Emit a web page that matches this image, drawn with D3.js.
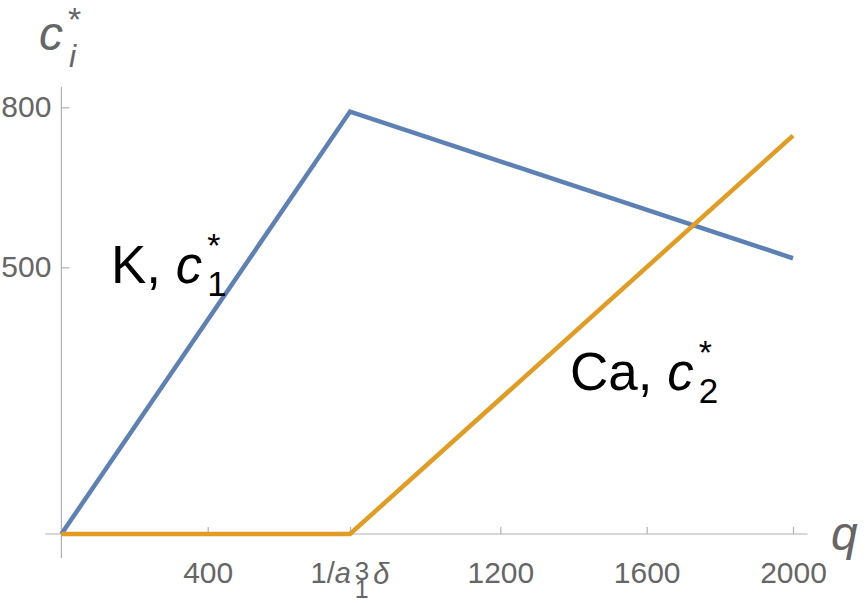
<!DOCTYPE html>
<html>
<head>
<meta charset="utf-8">
<script src="https://cdn.jsdelivr.net/npm/d3@7"></script>
<style>
  html, body { margin: 0; padding: 0; background: #fff; }
  svg { display: block; font-family: "Liberation Sans", Arial, sans-serif; }
</style>
</head>
<body>
<figure id="chart" style="margin:0"></figure>
<script>
// data
const qValues = [0, 789, 2000];
const kValues = [0, 792, 517];     // K, c1*
const caValues = [0, 0, 747];      // Ca, c2*
const xTicks = [400, 789, 1200, 1600, 2000];
const xTickLabels = ["400", "1/a\u2081\u00b3\u03b4", "1200", "1600", "2000"];
const yTicks = [500, 800];

const width = 867, height = 603;
const blue = "#5e81b5", orange = "#e19c24";
const axisColor = "#b0b0b0", labelColor = "#666";
const font = "'Liberation Sans', Arial, sans-serif";

const svg = d3.select("#chart")
  .append("svg")
  .attr("width", width)
  .attr("height", height);

// scales
const x = d3.scaleLinear().domain([0, 2000]).range([61.4, 793]);
const y = d3.scaleLinear().domain([0, 800]).range([534, 107.3]);

// axis lines (extend a bit past the plot range, Mathematica style)
svg.append("line")
  .attr("x1", x(-44)).attr("x2", x(2040))
  .attr("y1", y(0)).attr("y2", y(0))
  .attr("stroke", axisColor).attr("stroke-width", 1.2);
svg.append("line")
  .attr("x1", x(0)).attr("x2", x(0))
  .attr("y1", y(-45)).attr("y2", y(838))
  .attr("stroke", axisColor).attr("stroke-width", 1.2);

// x axis
const xAxis = svg.append("g")
  .attr("transform", "translate(0," + y(0) + ")")
  .call(d3.axisBottom(x)
    .tickValues(xTicks)
    .tickSizeInner(-7)
    .tickSizeOuter(0)
    .tickPadding(28)
    .tickFormat((d, i) => i === 1 ? "" : xTickLabels[i]));
xAxis.select(".domain").remove();
xAxis.selectAll(".tick line").attr("stroke", axisColor).attr("stroke-width", 1.2);
xAxis.selectAll(".tick text")
  .attr("fill", labelColor)
  .style("font-size", "30px")
  .style("font-family", font);

// special label at the kink: 1/a_1^3 δ, built from pieces
const special = xAxis.selectAll(".tick").filter((d, i) => i === 1);
const lab = special.append("g")
  .attr("fill", labelColor)
  .attr("text-anchor", "start")
  .style("font-family", font);
const main = lab.append("text").attr("x", -40).attr("y", 49).style("font-size", "29px");
main.append("tspan").text("1/");
main.append("tspan").attr("font-style", "italic").text("a");
const mx = -40 + main.node().getComputedTextLength() + 4;
const sup = lab.append("text").attr("x", mx).attr("y", 46).style("font-size", "26px").text("3");
lab.append("text").attr("x", mx).attr("y", 64).style("font-size", "25px").text("1");
const sx = mx + sup.node().getComputedTextLength();
lab.append("text").attr("x", sx + 4).attr("y", 50).style("font-size", "29px")
  .attr("font-style", "italic").text("\u03b4");

// y axis
const yAxis = svg.append("g")
  .attr("transform", "translate(" + x(0) + ",0)")
  .call(d3.axisLeft(y)
    .tickValues(yTicks)
    .tickSizeInner(-8)
    .tickSizeOuter(0)
    .tickPadding(10));
yAxis.select(".domain").remove();
yAxis.selectAll(".tick line").attr("stroke", axisColor).attr("stroke-width", 1.2);
yAxis.selectAll(".tick text")
  .attr("fill", labelColor)
  .style("font-size", "30px")
  .style("font-family", font);

// series
const line = d3.line()
  .x(d => x(d[0]))
  .y(d => y(d[1]));

svg.append("path")
  .datum(d3.zip(qValues, kValues))
  .attr("d", line)
  .attr("fill", "none")
  .attr("stroke", blue)
  .attr("stroke-width", 4.5)
  .attr("stroke-linejoin", "miter");

svg.append("path")
  .datum(d3.zip(qValues, caValues))
  .attr("d", line)
  .attr("fill", "none")
  .attr("stroke", orange)
  .attr("stroke-width", 4.5)
  .attr("stroke-linejoin", "miter");

// axis titles
const yt = svg.append("g").attr("fill", labelColor);
yt.append("text").attr("x", 39).attr("y", 50).attr("font-style", "italic")
  .style("font-size", "48px").text("c");
yt.append("text").attr("x", 69).attr("y", 67).attr("font-style", "italic")
  .style("font-size", "32px").text("i");
yt.append("text").attr("x", 68).attr("y", 31)
  .style("font-size", "34px").text("*");

svg.append("text").attr("x", 831).attr("y", 550).attr("font-style", "italic")
  .attr("fill", labelColor).style("font-size", "48px").text("q");

// series labels
function seriesLabel(px, py, name, idx) {
  const g = svg.append("g").attr("fill", "#000");
  const t = g.append("text").attr("x", px).attr("y", py).style("font-size", "53px");
  t.append("tspan").text(name + ", ");
  t.append("tspan").attr("font-style", "italic").text("c");
  const end = px + t.node().getComputedTextLength() + 5;
  g.append("text").attr("x", end).attr("y", py + 13).style("font-size", "35px").text(idx);
  g.append("text").attr("x", end).attr("y", py - 26).style("font-size", "34px").text("*");
}
seriesLabel(111, 283, "K", "1");
seriesLabel(570, 390, "Ca", "2");
</script>
</body>
</html>
